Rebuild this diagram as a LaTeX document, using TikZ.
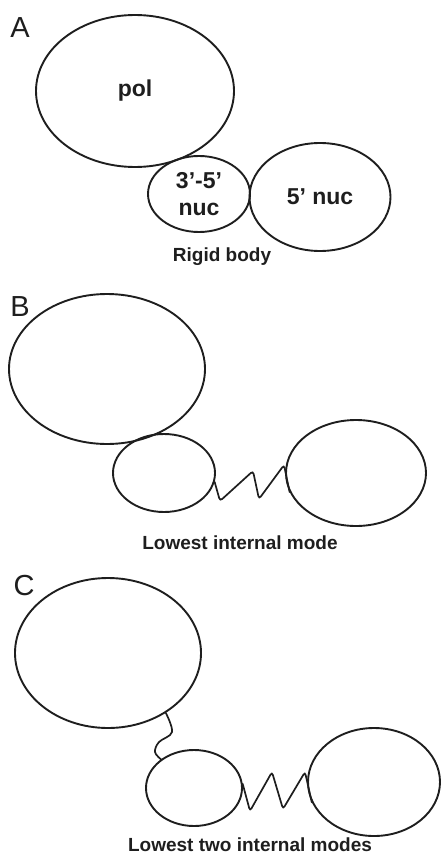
\documentclass[tikz,border=0pt]{standalone}
\usepackage{fontspec}
\setmainfont{Liberation Sans}
\usepackage{tikz}
\usetikzlibrary{shapes.geometric}
\definecolor{domInk}{HTML}{1E1E1E}
\tikzset{
    body/.style={ellipse, draw=domInk, line width=1.9pt, inner sep=0pt, align=center,
        font=\fontsize{23}{27}\selectfont\bfseries, text=domInk},
    spring/.style={draw=domInk, line width=1.7pt, line cap=round, rounded corners=3pt},
    panellabel/.style={font=\fontsize{29}{32}\selectfont, text=domInk},
    caption/.style={font=\fontsize{19}{22}\selectfont\bfseries, text=domInk}
}
\begin{document}
\begin{tikzpicture}[x=1pt,y=-1pt]
\useasboundingbox (0,0) rectangle (440,861);
% A: rigid body
\node[panellabel] (labA) at (20,28) {A};
\node[body, minimum width=198pt, minimum height=152pt] (polA) at (135,91) {pol};
\node[body, minimum width=102pt, minimum height=76pt] (exoA) at (199,194) {3'-5'\\nuc};
\node[body, minimum width=141pt, minimum height=108pt] (nucA) at (320,197) {5' nuc};
\node[caption] (capA) at (222,257) {Rigid body};
% B: lowest internal mode
\node[panellabel] (labB) at (20,307) {B};
\node[body, minimum width=196pt, minimum height=150pt] (polB) at (107,369) {};
\node[body, minimum width=102pt, minimum height=78pt] (exoB) at (164,473) {};
\node[body, minimum width=140pt, minimum height=106pt] (nucB) at (356,473) {};
\draw[spring] (exoB.-10) -- (220,501) -- (253,471) -- (259,499) -- (284,465) -- (nucB.-164);
\node[caption] (capB) at (240,543) {Lowest internal mode};
% C: lowest two internal modes
\node[panellabel] (labC) at (24,586) {C};
\node[body, minimum width=186pt, minimum height=150pt] (polC) at (108,653) {};
\node[body, minimum width=96pt, minimum height=76pt] (exoC) at (194,788) {};
\node[body, minimum width=132pt, minimum height=108pt] (nucC) at (374,782) {};
\draw[spring, rounded corners=0pt] plot[smooth, tension=0.6] coordinates {(polC.-46) (172,732) (159,742) (155,752) (exoC.139)};
\draw[spring] (exoC.5) -- (250,811) -- (272,772) -- (283,809) -- (305,772) -- (nucC.-162);
\node[caption] (capC) at (250,845) {Lowest two internal modes};
\end{tikzpicture}
\end{document}
